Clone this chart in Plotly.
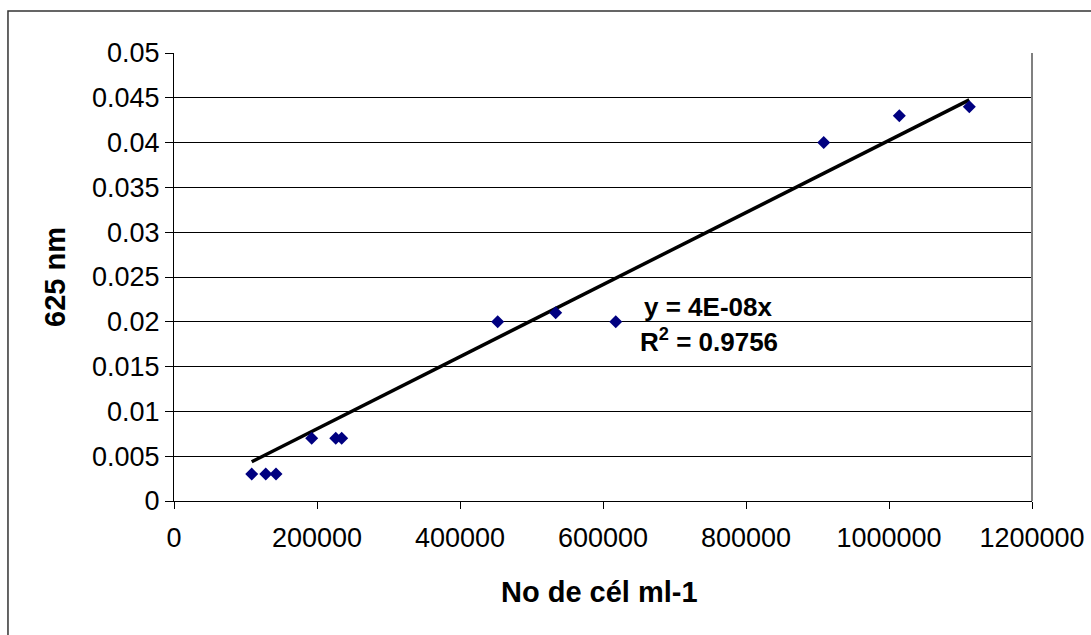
import numpy as np
import plotly.graph_objects as go

# Data
cells_per_ml = [108700, 128300, 142700, 192600, 226200, 234500,
                452700, 533800, 617800, 908700, 1014400, 1112300]
absorbance_625 = [0.003, 0.003, 0.003, 0.007, 0.007, 0.007,
                  0.020, 0.021, 0.020, 0.040, 0.043, 0.044]

x_tick_vals = [0, 200000, 400000, 600000, 800000, 1000000, 1200000]
x_tick_text = ["0", "200000", "400000", "600000", "800000", "1000000", "1200000"]
y_tick_vals = [0, 0.005, 0.01, 0.015, 0.02, 0.025, 0.03, 0.035, 0.04, 0.045, 0.05]
y_tick_text = ["0", "0.005", "0.01", "0.015", "0.02", "0.025", "0.03", "0.035", "0.04", "0.045", "0.05"]

equation_text = "y = 4E-08x"
r2_text = "R<sup>2</sup> = 0.9756"
x_title = "No de cél ml-1"
y_title = "625 nm"

# Linear trendline through origin (least squares)
xa = np.array(cells_per_ml, dtype=float)
ya = np.array(absorbance_625, dtype=float)
slope = float((xa * ya).sum() / (xa * xa).sum())
trend_x = [xa.min(), xa.max()]
trend_y = [slope * v for v in trend_x]

FONT = "Liberation Sans, Arial, sans-serif"

fig = go.Figure()
fig.add_trace(go.Scatter(
    x=trend_x, y=trend_y, mode="lines",
    line=dict(color="black", width=3.5),
    showlegend=False, hoverinfo="skip"))
fig.add_trace(go.Scatter(
    x=cells_per_ml, y=absorbance_625, mode="markers",
    marker=dict(symbol="diamond", size=10, color="#000080",
                line=dict(width=0)),
    showlegend=False, hoverinfo="x+y"))

fig.update_layout(
    width=1091, height=635,
    margin=dict(l=174, r=59, t=53, b=134, autoexpand=False),
    paper_bgcolor="white", plot_bgcolor="white",
    font=dict(family=FONT, size=27, color="black"),
    xaxis=dict(range=[0, 1200000], tickmode="array",
               tickvals=x_tick_vals, ticktext=x_tick_text,
               showgrid=False, zeroline=False, automargin=False,
               showline=True, linecolor="black", linewidth=1,
               ticks="outside", ticklen=7, tickcolor="black", tickwidth=1,
               ticklabelstandoff=6,
               tickfont=dict(family=FONT, size=27, color="black")),
    yaxis=dict(range=[0, 0.05], tickmode="array",
               tickvals=y_tick_vals, ticktext=y_tick_text,
               showgrid=True, gridcolor="black", gridwidth=1,
               zeroline=False, automargin=False,
               showline=True, linecolor="black", linewidth=1,
               ticks="outside", ticklen=8, tickcolor="black", tickwidth=1,
               tickfont=dict(family=FONT, size=27, color="black")),
    shapes=[
        dict(type="line", xref="paper", yref="paper", x0=1, x1=1, y0=0, y1=1,
             line=dict(color="#808080", width=2)),
        dict(type="rect", xref="paper", yref="paper",
             x0=-0.1935, x1=1.2, y0=-0.4, y1=1.0935,
             line=dict(color="#333333", width=1.5), layer="below"),
    ],
    annotations=[
        dict(text=equation_text, xref="x", yref="y", x=747500, y=0.0217,
             showarrow=False, xanchor="center", yanchor="middle",
             font=dict(family=FONT, size=26, color="black", weight="bold")),
        dict(text=r2_text, xref="x", yref="y", x=748500, y=0.0179,
             showarrow=False, xanchor="center", yanchor="middle",
             font=dict(family=FONT, size=26, color="black", weight="bold")),
        dict(text="<b>" + x_title + "</b>", xref="paper", yref="paper",
             x=0.4965, y=-0.2025, showarrow=False,
             xanchor="center", yanchor="middle",
             font=dict(family=FONT, size=29, color="black")),
        dict(text="<b>" + y_title + "</b>", xref="paper", yref="paper",
             x=-0.1387, y=0.5, showarrow=False, textangle=-90,
             xanchor="center", yanchor="middle",
             font=dict(family=FONT, size=29, color="black")),
    ],
)

fig.write_html("out.html")
